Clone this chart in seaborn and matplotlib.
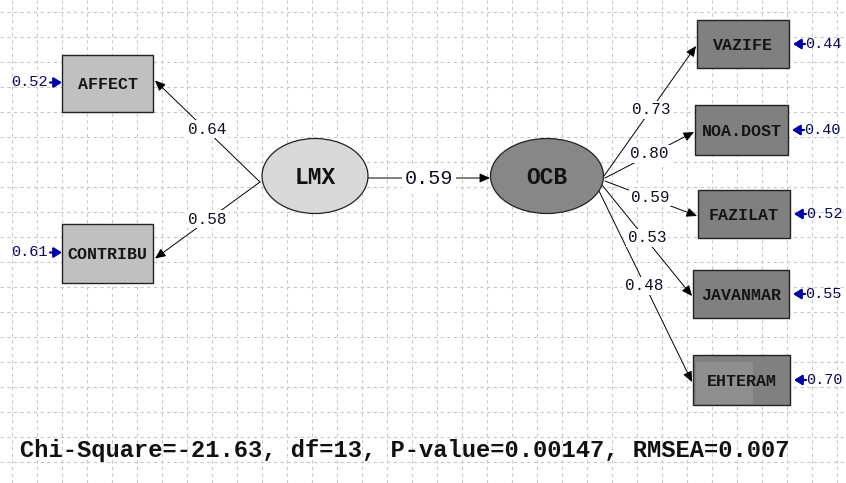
import numpy as np
import matplotlib
matplotlib.use("Agg")
import matplotlib.pyplot as plt
import seaborn as sns
from matplotlib.patches import Rectangle, Ellipse, FancyArrowPatch

# ---------------- data ----------------
latent_names = ["LMX", "OCB"]
path_coef = [0.59]                       # LMX -> OCB
lmx_items = ["AFFECT", "CONTRIBU"]
lmx_loadings = [0.64, 0.58]
lmx_errors = [0.52, 0.61]
ocb_items = ["VAZIFE", "NOA.DOST", "FAZILAT", "JAVANMAR", "EHTERAM"]
ocb_loadings = [0.73, 0.80, 0.59, 0.53, 0.48]
ocb_errors = [0.44, 0.40, 0.52, 0.55, 0.70]
fit_text = "Chi-Square=-21.63, df=13, P-value=0.00147, RMSEA=0.007"

# ---------------- layout (pixel coordinates) ----------------
W, H = 846, 483
lat_geom = {"LMX": (315, 176, 106, 75, "#d9d9d9"),
            "OCB": (547, 176, 113, 75, "#878787")}
left_boxes = [(62, 55, 91, 57), (62, 224, 91, 59)]
right_boxes = [(697, 20, 92, 48), (695, 105, 93, 50), (698, 190, 92, 48),
               (693, 270, 96, 48), (693, 355, 97, 50)]
left_origin = (260, 182)
right_origins = [(604, 176), (605, 178), (605, 181), (602, 185), (599, 191)]
left_lbl = [(207, 129), (207, 219)]
right_lbl = [(651, 110), (649, 154), (650, 197), (647, 238), (644, 286)]

sns.set_theme(style="white")
plt.rcParams['font.family'] = ['Liberation Mono', 'DejaVu Sans Mono']

fig = plt.figure(figsize=(W / 100, H / 100), dpi=100)
ax = fig.add_axes([0, 0, 1, 1])
ax.set_xlim(0, W)
ax.set_ylim(H, 0)
ax.set_facecolor("white")
for s in ax.spines.values():
    s.set_visible(False)

# dashed background grid
ax.set_xticks(np.arange(12, W, 25))
ax.set_yticks(np.arange(12, H, 25))
ax.tick_params(length=0, labelbottom=False, labelleft=False)
ax.grid(True, color="#c8c8c8", linestyle=(0, (3, 3)), linewidth=0.8)
ax.set_axisbelow(True)

def arrow(p0, p1, color="black", lw=0.7, hw=0.2, hl=0.45, ms=14):
    a = FancyArrowPatch(p0, p1, arrowstyle=f"-|>,head_width={hw:.3f},head_length={hl:.3f}",
                        mutation_scale=ms, color=color, lw=lw, shrinkA=0, shrinkB=0, zorder=3)
    ax.add_patch(a)

def err_arrow(p0, p1):
    # short, thick blue error arrow
    arrow(p0, p1, color="#0000a8", lw=1.6, hw=0.25, hl=0.4, ms=12)

def label(x, y, txt, size, color, weight="normal", bg=True):
    kw = {}
    if bg:
        kw["bbox"] = dict(boxstyle="square,pad=0.12", fc="white", ec="none")
    ax.text(x, y, txt, ha="center", va="center", fontsize=size, color=color,
            fontweight=weight, zorder=5, **kw)

# latent ellipses
for nm in latent_names:
    cx, cy, w, h, fc = lat_geom[nm]
    ax.add_patch(Ellipse((cx, cy), w, h, fc=fc, ec="#222222", lw=0.9, zorder=4))
    ax.text(cx, cy + 1, nm, ha="center", va="center", fontsize=16.5,
            fontweight="bold", color="#111111", zorder=6)

# structural path
arrow((368, 178), (490, 178))
label(429, 178, f"{path_coef[0]:.2f}", 14.5, "#101020")

# left indicators
for (bx, by, bw, bh), nm, ld, er, lp in zip(left_boxes, lmx_items, lmx_loadings, lmx_errors, left_lbl):
    ax.add_patch(Rectangle((bx, by), bw, bh, fc="#c0c0c0", ec="#222222", lw=1.0, zorder=4))
    ax.text(bx + bw / 2, by + bh / 2 + 1, nm, ha="center", va="center", fontsize=12,
            fontweight="bold", color="#151515", zorder=6)
    tgt = (bx + bw + 2, by + bh / 2 - 3 if nm == "AFFECT" else by + bh / 2 + 5)
    arrow(left_origin, tgt)
    label(lp[0], lp[1], f"{ld:.2f}", 11.5, "#101020")
    err_arrow((bx - 12, by + bh / 2 - 1), (bx, by + bh / 2 - 1))
    ax.text(bx - 33, by + bh / 2 - 1, f"{er:.2f}", ha="center", va="center",
            fontsize=11, color="#0a0a60", zorder=6)

# right indicators
for (bx, by, bw, bh), nm, ld, er, o, lp in zip(right_boxes, ocb_items, ocb_loadings, ocb_errors,
                                                right_origins, right_lbl):
    ax.add_patch(Rectangle((bx, by), bw, bh, fc="#808080", ec="#222222", lw=1.0, zorder=4))
    if nm == "EHTERAM":
        ax.add_patch(Rectangle((bx + 3, by + 7), 57, bh - 8, fc="#8f8f8f", ec="none", zorder=4))
    ax.text(bx + bw / 2, by + bh / 2 + 1, nm, ha="center", va="center", fontsize=12,
            fontweight="bold", color="#151515", zorder=6)
    arrow(o, (bx - 1, by + bh / 2 + 2))
    label(lp[0], lp[1], f"{ld:.2f}", 11.5, "#101020")
    err_arrow((bx + bw + 16, by + bh / 2), (bx + bw + 4, by + bh / 2))
    ax.text(bx + bw + 34, by + bh / 2, f"{er:.2f}", ha="center", va="center",
            fontsize=11, color="#0a0a60", zorder=6)

# fit statistics
ax.text(20, 451, fit_text, ha="left", va="center", fontsize=17.1, fontweight="bold",
        color="#111111", zorder=6)

fig.savefig("out.png", dpi=100)
